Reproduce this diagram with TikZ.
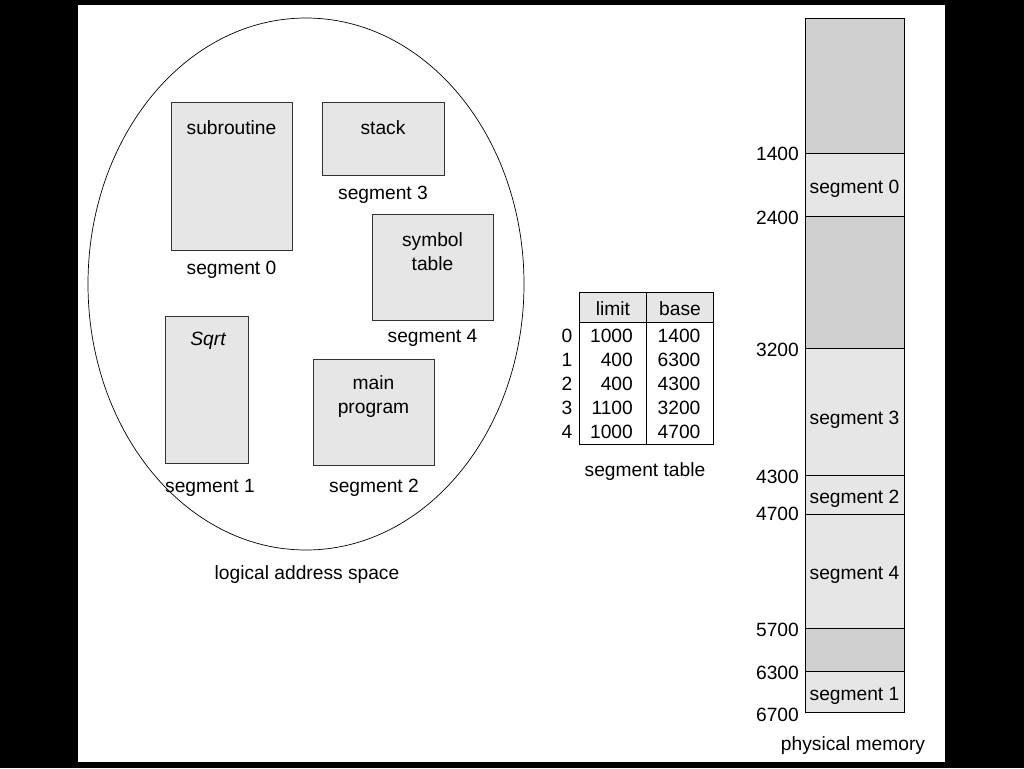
\documentclass[tikz,border=0pt]{standalone}
\usepackage{fontspec}
\setmainfont{Liberation Sans}
\usetikzlibrary{shapes.geometric}
\definecolor{lgray}{HTML}{E6E6E6}
\definecolor{dgray}{HTML}{D0D0D0}
\definecolor{edge}{HTML}{333333}
\begin{document}
\begin{tikzpicture}[x=1pt,y=-1pt,
  txt/.style={inner sep=0pt,font=\fontsize{19.2}{24}\selectfont,text=black},
  segbox/.style={draw=edge,line width=0.9pt,fill=lgray,inner sep=0pt},
  memcell/.style={draw=black,line width=0.9pt,inner sep=0pt,minimum width=99pt},
  tcell/.style={inner sep=0pt,font=\fontsize{19.2}{24}\selectfont}]
\useasboundingbox (0,0) rectangle (1024,768);
\fill[black] (0,0) rectangle (1024,768);
\fill[white] (78,5) rectangle (945,762);
% logical address space
\node[ellipse,draw=black,line width=0.7pt,minimum width=436pt,minimum height=532pt,inner sep=0pt] (las) at (306,284) {};
\node[segbox,minimum width=121pt,minimum height=148pt] (sub) at (231.5,176) {};
\node[txt] (subt) at (231.5,128) {subroutine};
\node[txt] (s0) at (231.5,270) {segment 0};
\node[segbox,minimum width=122pt,minimum height=73pt] (stk) at (383,138.5) {};
\node[txt] (stkt) at (383,128) {stack};
\node[txt] (s3) at (383,195) {segment 3};
\node[segbox,minimum width=121pt,minimum height=106pt] (sym) at (432.5,267) {};
\node[txt,align=center] (symt) at (432.5,252) {symbol\\table};
\node[txt] (s4) at (432.5,338) {segment 4};
\node[segbox,minimum width=83pt,minimum height=147pt] (sq) at (206.5,389.5) {};
\node[txt] (sqt) at (208,341) {\itshape Sqrt};
\node[txt] (s1) at (210,488) {segment 1};
\node[segbox,minimum width=121pt,minimum height=106pt] (mp) at (373.5,412) {};
\node[txt,align=center] (mpt) at (373.5,397) {main\\program};
\node[txt] (s2) at (374,488) {segment 2};
\node[txt] (lasl) at (307,575) {logical address space};
% segment table
\fill[lgray] (579,292) rectangle (713,322);
\draw[black,line width=0.9pt] (579,292) rectangle (713,444);
\draw[black,line width=0.9pt] (579,322) -- (713,322);
\draw[black,line width=0.9pt] (646,292) -- (646,444);
\node[tcell] (hl) at (613,309) {limit};
\node[tcell] (hb) at (680,309) {base};
\foreach \i/\l/\b [count=\k from 0] in {0/1000/1400,1/400/6300,2/400/4300,3/1100/3200,4/1000/4700}{
  \node[tcell] (ri\i) at (567,336+24*\k) {\i};
  \node[tcell,anchor=east] (rl\i) at (633,336+24*\k) {\l};
  \node[tcell] (rb\i) at (679,336+24*\k) {\b};
}
\node[txt] (stl) at (645,472) {segment table};
% physical memory
\foreach \ya/\yb/\c/\n in {18/153/dgray/m0,153/216/lgray/m1,216/348/dgray/m2,348/475/lgray/m3,475/514/lgray/m4,514/628/lgray/m5,628/671/dgray/m6,671/712/lgray/m7}{
  \node[memcell,fill=\c,minimum height={\yb-\ya}] (\n) at (854.5,{(\ya+\yb)/2}) {};
}
\foreach \y/\t/\n in {189/segment 0/m1,420/segment 3/m3,499/segment 2/m4,575/segment 4/m5,696/segment 1/m7}{
  \node[txt] (\n t) at (854.5,\y) {\t};
}
\foreach \y/\v in {154/1400,218/2400,350/3200,477/4300,514/4700,630/5700,673/6300,715/6700}{
  \node[txt,anchor=east] (a\v) at (799,\y) {\v};
}
\node[txt] (pml) at (853,746) {physical memory};
\end{tikzpicture}
\end{document}
